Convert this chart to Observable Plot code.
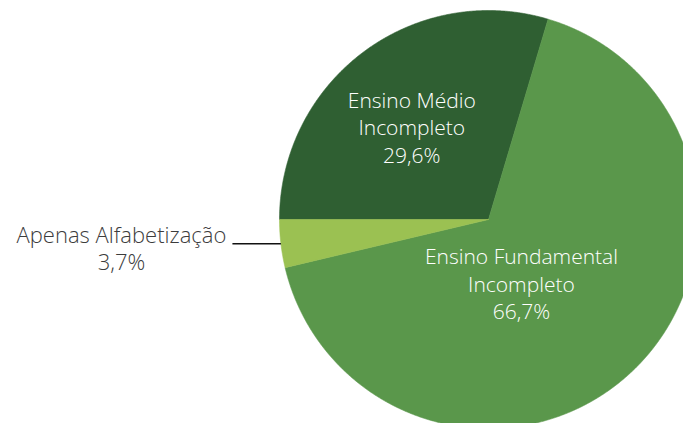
<!DOCTYPE html>
<html><head><meta charset="utf-8">
<script src="https://cdn.jsdelivr.net/npm/d3@7"></script>
<script src="https://cdn.jsdelivr.net/npm/@observablehq/plot@0.6"></script>
<style>body{margin:0;overflow:hidden;background:#fff}</style>
</head><body><div id="chart"></div>
<script>
const categories = ["Ensino Médio Incompleto", "Ensino Fundamental Incompleto", "Apenas Alfabetização"];
const labelLines = ["Ensino Médio\nIncompleto", "Ensino Fundamental\nIncompleto", "Apenas Alfabetização"];
const values = [29.6, 66.7, 3.7];
const valueLabels = ["29,6%", "66,7%", "3,7%"];
const colors = ["#2f5f32", "#5a974b", "#9bc152"];

const arcs = d3.pie().sort(null).startAngle(-Math.PI / 2).endAngle(3 * Math.PI / 2)(values);

const pts = [];
arcs.forEach((a, i) => {
  pts.push({cat: categories[i], x: 0, y: 0});
  const n = Math.max(8, Math.ceil((a.endAngle - a.startAngle) / 0.004));
  for (let k = 0; k <= n; k++) {
    const t = a.startAngle + (a.endAngle - a.startAngle) * k / n;
    pts.push({cat: categories[i], x: Math.sin(t), y: Math.cos(t)});
  }
  pts.push({cat: categories[i], x: 0, y: 0});
});

const mid = a => (a.startAngle + a.endAngle) / 2;
const inner = arcs.slice(0, 2).map((a, i) => ({
  x: 0.55 * Math.sin(mid(a)), y: 0.55 * Math.cos(mid(a)),
  text: labelLines[i] + "\n" + valueLabels[i]
}));
const am = mid(arcs[2]);
const leader = [{x1: Math.sin(am), y1: Math.cos(am), x2: Math.sin(am) - 0.232, y2: Math.cos(am)}];
const outer = [{x: leader[0].x2, y: leader[0].y2, text: labelLines[2] + "\n" + valueLabels[2]}];

const font = "'Open Sans', 'Noto Sans', sans-serif";
const chart = Plot.plot({
  width: 683, height: 423,
  margin: 0,
  style: {fontFamily: font, background: "white", overflow: "hidden"},
  x: {domain: [-1, 1], range: [279, 697], axis: null},
  y: {domain: [-1, 1], range: [428, 10], axis: null},
  color: {domain: categories, range: colors},
  marks: [
    Plot.line(pts, {x: "x", y: "y", z: "cat", fill: "cat", stroke: "cat", strokeWidth: 0.6, curve: "linear"}),
    Plot.text([inner[0]], {x: "x", y: "y", text: "text", dx: -8, dy: -1, fill: "white", fontSize: 21, fontWeight: 300, lineHeight: 1.31, lineAnchor: "middle"}),
    Plot.text([inner[1]], {x: "x", y: "y", text: "text", dx: -46, dy: -20, fill: "white", fontSize: 21, fontWeight: 300, lineHeight: 1.31, lineAnchor: "middle"}),
    Plot.link(leader, {x1: "x1", y1: "y1", x2: "x2", y2: "y2", stroke: "#111", strokeWidth: 1.6}),
    Plot.text(outer, {x: "x", y: "y", text: "text", dx: -111, dy: 4.3, fill: "#3c3c3c", fontSize: 22, fontWeight: 300, lineHeight: 1.24, lineAnchor: "middle"})
  ]
});
document.getElementById("chart").appendChild(chart);
</script>
</body></html>
